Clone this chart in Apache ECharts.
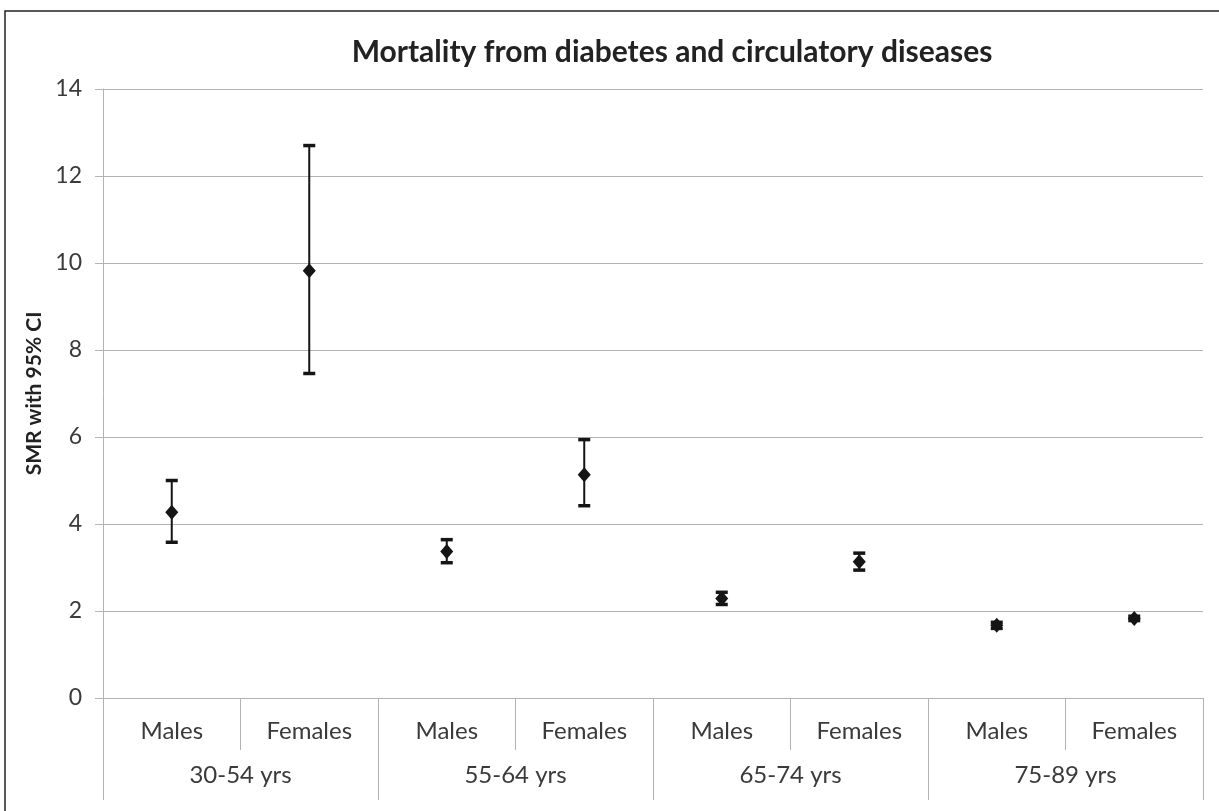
<!DOCTYPE html>
<html>
<head>
<meta charset="utf-8">
<script src="https://cdn.jsdelivr.net/npm/echarts@6/dist/echarts.min.js"></script>
<style>
html,body{margin:0;padding:0;background:#fff;}
#chart{width:1219px;height:811px;}
</style>
</head>
<body>
<div id="chart"></div>
<script>
const titleText = 'Mortality from diabetes and circulatory diseases';
const yAxisName = 'SMR with 95% CI';
const groups = ['30-54 yrs', '55-64 yrs', '65-74 yrs', '75-89 yrs'];
const sexes = ['Males', 'Females', 'Males', 'Females', 'Males', 'Females', 'Males', 'Females'];
const smr = [4.27, 9.82, 3.37, 5.13, 2.29, 3.13, 1.67, 1.83];
const ciLower = [3.58, 7.46, 3.11, 4.42, 2.15, 2.94, 1.60, 1.78];
const ciUpper = [5.00, 12.70, 3.64, 5.94, 2.43, 3.33, 1.74, 1.88];
const yTicks = [0, 2, 4, 6, 8, 10, 12, 14];

const FONT = 'Lato';
const TXT = '#3a3a3a';
const GRID = '#b3b3b3';
const INK = '#151515';

const errData = sexes.map((s, i) => [i, ciLower[i], ciUpper[i]]);
const ptData = sexes.map((s, i) => [i, smr[i]]);

const chart = echarts.init(document.getElementById('chart'), null, {renderer: 'canvas'});
chart.setOption({
  backgroundColor: '#fff',
  animation: false,
  title: {
    text: titleText,
    left: 667,
    top: 32,
    textAlign: 'center',
    textStyle: {fontFamily: FONT, fontWeight: 'bold', fontSize: 30, color: '#222'}
  },
  grid: {left: 103, right: 16, top: 89, bottom: 113, containLabel: false},
  xAxis: [
    {
      type: 'category',
      data: sexes,
      position: 'bottom',
      boundaryGap: true,
      axisLine: {show: true, lineStyle: {color: GRID, width: 1}},
      axisTick: {show: true, interval: 0, length: 52, lineStyle: {color: GRID, width: 1}},
      axisLabel: {interval: 0, margin: 21, color: TXT, fontFamily: FONT, fontSize: 24},
      splitLine: {show: false}
    },
    {
      type: 'category',
      data: groups,
      position: 'bottom',
      boundaryGap: true,
      axisLine: {show: false},
      axisTick: {show: true, interval: 0, length: 102, lineStyle: {color: GRID, width: 1}},
      axisLabel: {interval: 0, margin: 65, color: TXT, fontFamily: FONT, fontSize: 24},
      splitLine: {show: false}
    }
  ],
  yAxis: {
    type: 'value',
    min: 0,
    max: 14,
    interval: 2,
    name: yAxisName,
    nameLocation: 'middle',
    nameRotate: 90,
    nameGap: 50,
    nameTextStyle: {fontFamily: FONT, fontWeight: 'bold', fontSize: 21, color: '#222'},
    axisLine: {show: true, lineStyle: {color: GRID, width: 1}},
    axisTick: {show: true, length: 8, lineStyle: {color: GRID}},
    axisLabel: {
      margin: 21, color: TXT, fontFamily: FONT, fontSize: 23,
      formatter: v => (yTicks.indexOf(v) >= 0 ? String(v) : '')
    },
    splitLine: {show: true, lineStyle: {color: GRID, width: 1.2}}
  },
  series: [
    {
      type: 'custom',
      xAxisIndex: 0,
      data: errData,
      encode: {x: 0, y: [1, 2]},
      renderItem: function (params, api) {
        const x = api.value(0);
        const lo = api.coord([x, api.value(1)]);
        const hi = api.coord([x, api.value(2)]);
        const hw = 6;
        const st = {stroke: INK, lineWidth: 2};
        const cap = {stroke: INK, lineWidth: 3.5};
        return {
          type: 'group',
          children: [
            {type: 'line', shape: {x1: hi[0], y1: hi[1], x2: lo[0], y2: lo[1]}, style: st},
            {type: 'line', shape: {x1: hi[0] - hw, y1: hi[1], x2: hi[0] + hw, y2: hi[1]}, style: cap},
            {type: 'line', shape: {x1: lo[0] - hw, y1: lo[1], x2: lo[0] + hw, y2: lo[1]}, style: cap}
          ]
        };
      },
      z: 3
    },
    {
      type: 'scatter',
      xAxisIndex: 0,
      data: ptData,
      symbol: 'diamond',
      symbolSize: [13, 15],
      itemStyle: {color: INK, opacity: 1},
      z: 4
    }
  ],
  graphic: [
    {
      type: 'rect',
      shape: {x: 5, y: 11, width: 1240, height: 840},
      style: {fill: 'none', stroke: '#222', lineWidth: 1.5},
      silent: true,
      z: 100
    }
  ]
});
</script>
</body>
</html>
